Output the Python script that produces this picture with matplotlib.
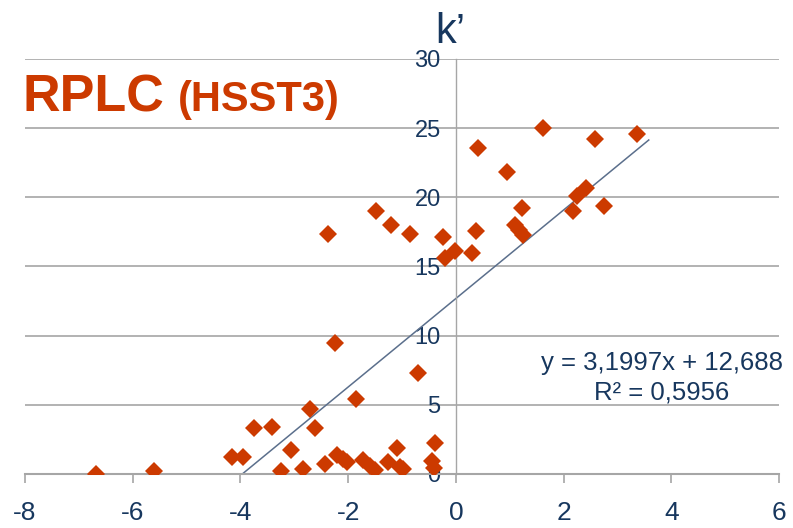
import matplotlib

matplotlib.use("Agg")
import matplotlib.pyplot as plt
import numpy as np

# data
x_vals = [-6.68, -5.61, -4.15, -3.96, -3.75, -3.41, -3.25, -3.07, -2.84, -2.71,
          -2.62, -2.43, -2.21, -2.10, -2.03, -1.86, -1.72, -1.60, -1.50, -1.26,
          -1.10, -1.04, -0.98, -0.45, -0.39, -0.40, -0.70, -2.24,
          -2.38, -1.49, -1.21, -0.85, -0.24, -0.20, -0.02, 0.29, 0.37, 0.41,
          0.95, 1.09, 1.17, 1.25, 1.23, 1.62, 2.18, 2.24, 2.41, 2.58, 2.75, 3.36]
y_vals = [0.00, 0.25, 1.20, 1.20, 3.30, 3.40, 0.20, 1.75, 0.35, 4.70,
          3.35, 0.75, 1.38, 1.10, 0.85, 5.40, 1.00, 0.60, 0.30, 0.85,
          1.86, 0.50, 0.35, 0.95, 2.22, 0.45, 7.30, 9.50,
          17.35, 19.00, 18.00, 17.35, 17.10, 15.60, 16.10, 16.00, 17.55, 23.60,
          21.80, 18.00, 17.65, 17.30, 19.25, 25.00, 19.00, 20.10, 20.70, 24.20, 19.40, 24.55]

slope = 3.1997
intercept = 12.688
r2 = 0.5956
trend_x_end = 3.58

x_ticks = [-8, -6, -4, -2, 0, 2, 4, 6]
y_ticks = [0, 5, 10, 15, 20, 25, 30]

red = "#CC3A00"
navy = "#17375E"
grid_c = "#A6A6A6"

plt.rcParams["font.family"] = ["Liberation Sans", "DejaVu Sans"]
plt.rcParams["axes.unicode_minus"] = False  # plain hyphen like the source

fig = plt.figure(figsize=(7.93, 5.28), dpi=100)
ax = fig.add_axes([0.0315, 0.1023, 0.951, 0.786])

ax.set_xlim(-8, 6)
ax.set_ylim(0, 30)

# gridlines + axes
ax.yaxis.grid(True, color=grid_c, linewidth=1.2)
ax.set_axisbelow(True)
for s in ["top", "right"]:
    ax.spines[s].set_visible(False)
ax.spines["left"].set_position(("data", 0))
ax.spines["left"].set_color(grid_c)
ax.spines["left"].set_linewidth(1.0)
ax.spines["bottom"].set_color(grid_c)
ax.spines["bottom"].set_linewidth(1.5)

ax.set_xticks(x_ticks)
ax.set_yticks(y_ticks)
ax.tick_params(axis="x", length=6.5, width=1.2, color=grid_c, labelsize=19,
               labelcolor=navy, pad=13)
ax.tick_params(axis="y", length=0, labelsize=17, labelcolor=navy, pad=11)

# trendline (clipped at y=0 by the axes)
tx = np.array([min(x_vals), trend_x_end])
ax.plot(tx, slope * tx + intercept, color="#5B6F8C", linewidth=1.1, zorder=2)

ax.plot(x_vals, y_vals, linestyle="none", marker="D", markersize=9.3,
        color=red, markeredgewidth=0, zorder=3)

eq = "y = {:.4f}x + {:.3f}".format(slope, intercept).replace(".", ",")
ax.text(3.82, 8.0, eq, ha="center", va="center", fontsize=18.5, color=navy)
ax.text(3.82, 5.9, "R² = {:.4f}".format(r2).replace(".", ","), ha="center",
        va="center", fontsize=18.5, color=navy)

# labels
fig.text(450 / 793, 1 - 43 / 528, "k’", ha="center", va="baseline",
         fontsize=30, color=navy)
fig.text(23 / 793, 1 - 111 / 528, "RPLC", ha="left", va="baseline",
         fontsize=37.5, fontweight="bold", color=red)
fig.text(178 / 793, 1 - 111 / 528, "(HSST3)", ha="left", va="baseline",
         fontsize=30, fontweight="bold", color=red)

fig.savefig("out.png", dpi=100)
